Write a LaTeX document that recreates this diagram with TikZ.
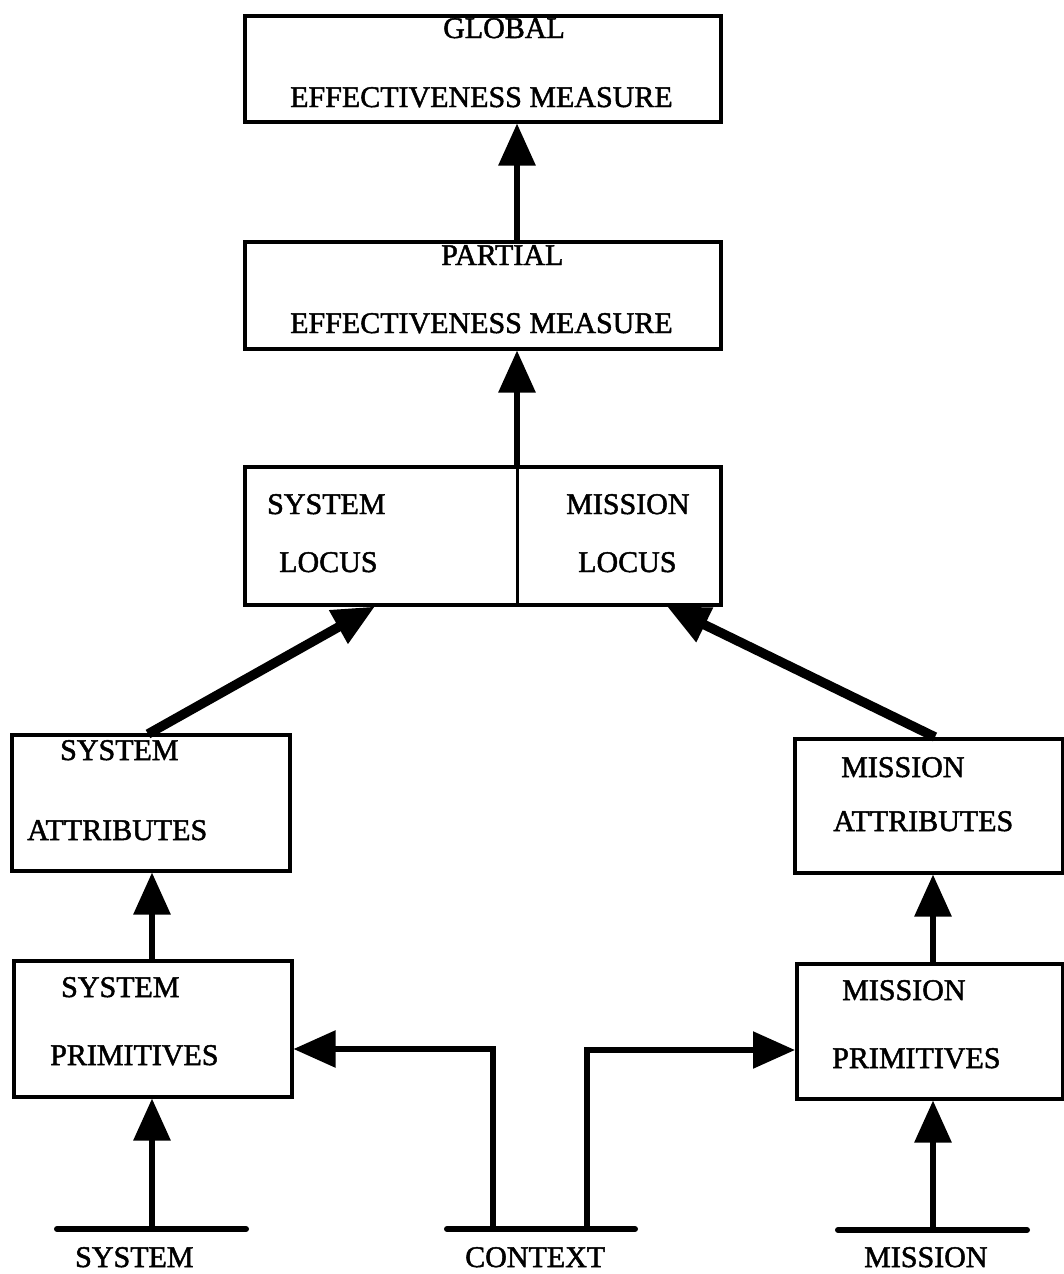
\documentclass[tikz,border=0pt]{standalone}
\usepackage{fontspec}
\setmainfont{Liberation Serif}
\newfontfamily\scanfont{Liberation Serif}[FakeBold=1.6]
\usetikzlibrary{arrows.meta,calc}
\begin{document}
\begin{tikzpicture}[x=1pt,y=-1pt,
  box/.style={draw,line width=3.5pt,rectangle,anchor=north west,inner sep=0pt},
  txt/.style={anchor=base west,inner sep=0pt,font=\scanfont\fontsize{30}{34}\selectfont},
  tip/.style={-{Triangle[length=42pt,width=36pt]}},
  arr/.style={line width=6pt,tip},
  darr/.style={line width=9.5pt,tip},
  cline/.style={line width=5.5pt,tip},
  barline/.style={line width=6pt,line cap=round}]
\useasboundingbox (0,0) rectangle (1063,1274);
% boxes
\node[box,minimum width=476pt,minimum height=106pt] (global) at (243,14) {};
\node[box,minimum width=476pt,minimum height=107pt] (partial) at (243,240) {};
\node[box,minimum width=476pt,minimum height=138pt] (locus) at (243,465) {};
\node[box,minimum width=278pt,minimum height=136pt] (sysattr) at (10,733) {};
\node[box,minimum width=278pt,minimum height=136pt] (sysprim) at (12,959) {};
\node[box,minimum width=268pt,minimum height=134pt] (misattr) at (793,737) {};
\node[box,minimum width=266pt,minimum height=135pt] (misprim) at (795,962) {};
\coordinate (divT) at (517,465);
\coordinate (divB) at (517,603);
\draw[line width=3pt] (divT) -- (divB);
% texts
\node[txt] (t1) at (443,38) {GLOBAL};
\node[txt] (t2) at (290,107) {EFFECTIVENESS MEASURE};
\node[txt] (t3) at (441,265) {PARTIAL};
\node[txt] (t4) at (290,333) {EFFECTIVENESS MEASURE};
\node[txt] (t5) at (267,514) {SYSTEM};
\node[txt] (t6) at (279,572) {LOCUS};
\node[txt] (t7) at (566,514) {MISSION};
\node[txt] (t8) at (578,572) {LOCUS};
\node[txt] (t9) at (60,760) {SYSTEM};
\node[txt] (t10) at (27,840) {ATTRIBUTES};
\node[txt] (t11) at (841,777) {MISSION};
\node[txt] (t12) at (833,831) {ATTRIBUTES};
\node[txt] (t13) at (61,997) {SYSTEM};
\node[txt] (t14) at (50,1065) {PRIMITIVES};
\node[txt] (t15) at (842,1000) {MISSION};
\node[txt] (t16) at (832,1068) {PRIMITIVES};
\node[txt] (t17) at (75,1267) {SYSTEM};
\node[txt] (t18) at (465,1267) {CONTEXT};
\node[txt] (t19) at (864,1267) {MISSION};
% bars
\coordinate (sysbarL) at (57,1229); \coordinate (sysbarR) at (246,1229);
\coordinate (ctxbarL) at (447,1229); \coordinate (ctxbarR) at (635,1229);
\coordinate (misbarL) at (838,1230); \coordinate (misbarR) at (1027,1230);
\draw[barline] (sysbarL) -- (sysbarR);
\draw[barline] (ctxbarL) -- (ctxbarR);
\draw[barline] (misbarL) -- (misbarR);
\coordinate (sysin) at (152,1229);
\coordinate (misin) at (933,1230);
\coordinate (ctxl) at (493,1229);
\coordinate (ctxr) at (587,1229);
% connectors
\draw[arr] (partial.north -| divT) -- (global.south -| divT);
\draw[arr] (locus.north -| divT) -- (partial.south -| divT);
\draw[darr] ($(sysattr.north west)+(138,1)$) -- ($(locus.south west)+(132,0)$);
\draw[darr] ($(misattr.north west)+(142,0)$) -- ($(locus.south west)+(424,0)$);
\draw[arr] (sysprim.north -| sysin) -- (sysattr.south -| sysin);
\draw[arr] (misprim.north -| misin) -- (misattr.south -| misin);
\draw[arr] (sysin) -- (sysprim.south -| sysin);
\draw[arr] (misin) -- (misprim.south -| misin);
\draw[cline] (ctxl) |- ($(sysprim.north east)+(0,90)$);
\draw[cline] (ctxr) |- ($(misprim.north west)+(0,88)$);
\end{tikzpicture}
\end{document}
